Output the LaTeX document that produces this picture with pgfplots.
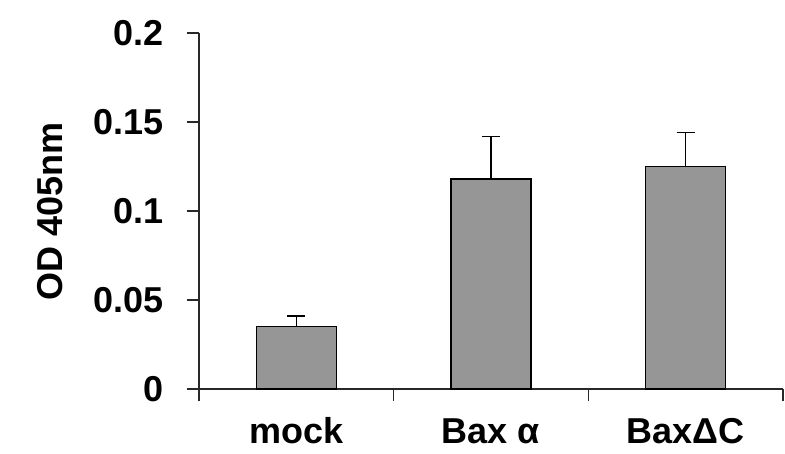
\documentclass[border=0pt]{standalone}
\usepackage{fontspec}
\setmainfont{Liberation Sans}
\usepackage{pgfplots}
\pgfplotsset{compat=1.18}
\definecolor{barfill}{RGB}{150,150,150}
\definecolor{axcol}{RGB}{40,40,40}
\newcommand{\bigbf}{\fontsize{36bp}{40bp}\selectfont\bfseries}
\begin{document}
\begin{tikzpicture}
\path[use as bounding box] (-199bp,-65bp) rectangle (586bp,389bp);
\begin{axis}[
  scale only axis, width=584bp, height=356bp,
  xmin=0, xmax=3, ymin=0, ymax=0.2,
  ybar,
  axis x line=bottom, axis y line=left,
  axis line style={-, line width=1.1bp, axcol},
  every tick/.style={line width=1.1bp, axcol},
  tick align=outside,
  major tick length=12bp,
  xtick={0,1,2,3}, xticklabels={},
  extra x ticks={0.5,1.5,2.5},
  extra x tick labels={mock,Bax α,BaxΔC},
  extra x tick style={major tick length=0pt, xticklabel style={inner sep=0pt, anchor=base, yshift=-54bp}},
  ytick={0,0.05,0.1,0.15,0.2},
  yticklabels={0,0.05,0.1,0.15,0.2},
  yticklabel style={inner sep=0pt, xshift=-23bp},
  tick label style={font=\bigbf},
  every axis y label/.style={at={(axis description cs:0,0.5)}, xshift=-136bp, rotate=90, anchor=south, inner sep=0pt, font=\bigbf},
  ylabel={OD 405nm},
  clip=false,
]
\addplot[bar width=0.41, fill=barfill, draw=black, line width=1.3bp,
  error bars/.cd, y dir=plus, y explicit,
  error bar style={line width=1.3bp, black},
  error mark options={rotate=90, mark size=9bp, line width=1.3bp, black}]
  coordinates {(0.5,0.035) +- (0,0.006) (1.5,0.118) +- (0,0.024) (2.5,0.125) +- (0,0.019)};
\end{axis}
\end{tikzpicture}
\end{document}
